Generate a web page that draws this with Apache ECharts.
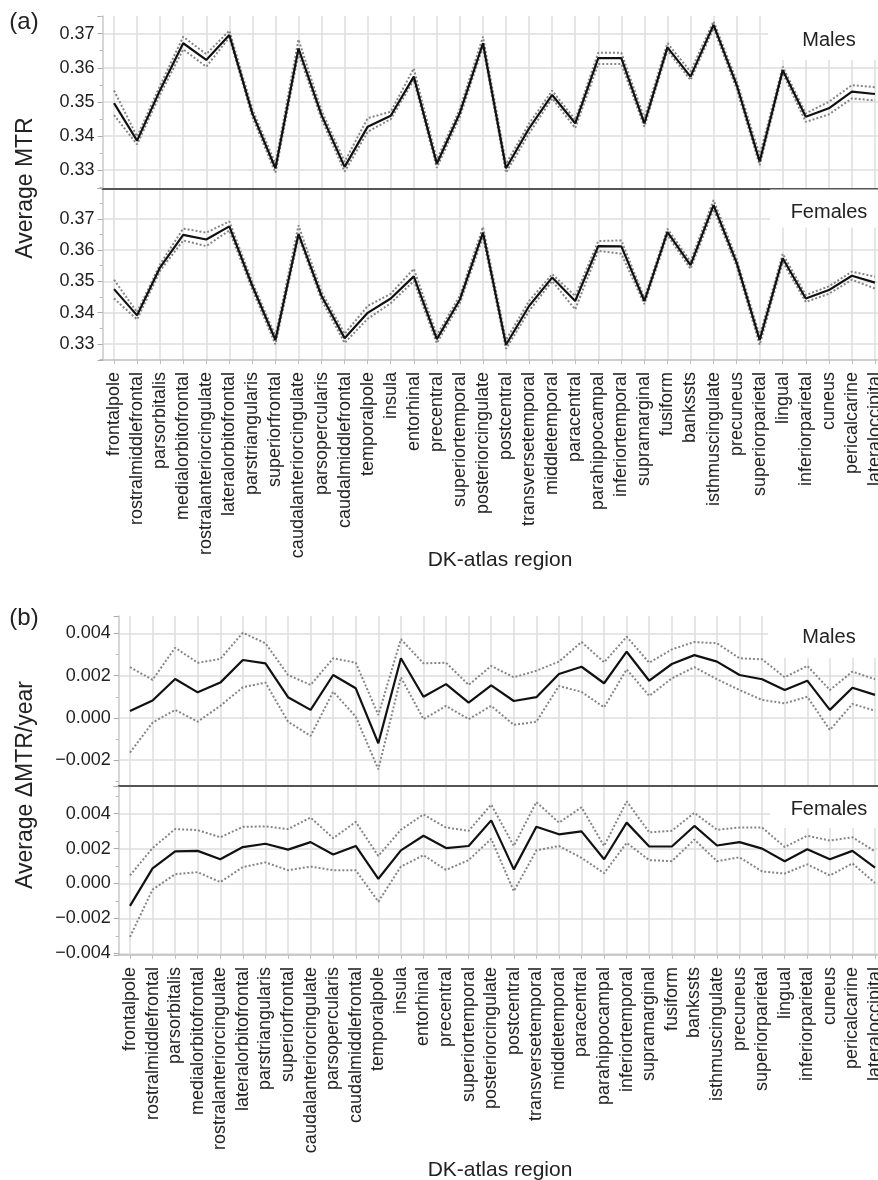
<!DOCTYPE html>
<html>
<head>
<meta charset="utf-8">
<script src="https://cdn.jsdelivr.net/npm/echarts@6/dist/echarts.min.js"></script>
<style>
  html, body { margin: 0; padding: 0; background: #fff; }
  #main { width: 878px; height: 1180px; }
</style>
</head>
<body>
<div id="main"></div>
<script>
// DK-atlas regions, same order in both panels
var regions = ['frontalpole','rostralmiddlefrontal','parsorbitalis','medialorbitofrontal','rostralanteriorcingulate',
  'lateralorbitofrontal','parstriangularis','superiorfrontal','caudalanteriorcingulate','parsopercularis',
  'caudalmiddlefrontal','temporalpole','insula','entorhinal','precentral','superiortemporal','posteriorcingulate',
  'postcentral','transversetemporal','middletemporal','paracentral','parahippocampal','inferiortemporal',
  'supramarginal','fusiform','bankssts','isthmuscingulate','precuneus','superiorparietal','lingual',
  'inferiorparietal','cuneus','pericalcarine','lateraloccipital'];

// (a) average MTR
var mtrMaleMean = [0.3496,0.3386,0.3535,0.3672,0.3623,0.3696,0.3466,0.3305,0.3657,0.3461,0.3309,0.3427,0.3459,0.3574,0.3318,0.3468,0.3672,
  0.3305,0.3422,0.3520,0.3437,0.3628,0.3628,0.3437,0.3660,0.3574,0.3726,0.3550,0.3325,0.3593,0.3456,0.3481,0.3530,0.3523];
var mtrMaleUpper = [0.3533,0.3398,0.3548,0.3691,0.3640,0.3709,0.3478,0.3318,0.3683,0.3474,0.3324,0.3452,0.3471,0.3598,0.3330,0.3480,0.3691,
  0.3318,0.3436,0.3533,0.3447,0.3644,0.3644,0.3452,0.3672,0.3589,0.3736,0.3562,0.3343,0.3603,0.3466,0.3500,0.3549,0.3543];
var mtrMaleLower = [0.3461,0.3375,0.3522,0.3654,0.3603,0.3689,0.3455,0.3292,0.3642,0.3449,0.3295,0.3412,0.3449,0.3564,0.3306,0.3456,0.3662,
  0.3292,0.3407,0.3510,0.3423,0.3611,0.3611,0.3427,0.3651,0.3564,0.3716,0.3538,0.3314,0.3584,0.3441,0.3463,0.3510,0.3504];
var mtrFemaleMean = [0.3475,0.3391,0.3545,0.3649,0.3634,0.3676,0.3485,0.3312,0.3652,0.3453,0.3318,0.3399,0.3445,0.3516,0.3315,0.3442,0.3656,
  0.3297,0.3421,0.3512,0.3437,0.3613,0.3612,0.3437,0.3658,0.3552,0.3744,0.3560,0.3312,0.3574,0.3445,0.3472,0.3518,0.3496];
var mtrFemaleUpper = [0.3505,0.3401,0.3555,0.3669,0.3656,0.3692,0.3497,0.3325,0.3679,0.3466,0.3332,0.3421,0.3460,0.3540,0.3328,0.3454,0.3674,
  0.3312,0.3437,0.3523,0.3453,0.3629,0.3631,0.3447,0.3668,0.3564,0.3760,0.3572,0.3326,0.3588,0.3456,0.3484,0.3531,0.3515];
var mtrFemaleLower = [0.3445,0.3378,0.3534,0.3631,0.3613,0.3663,0.3473,0.3298,0.3642,0.3440,0.3303,0.3380,0.3430,0.3501,0.3302,0.3430,0.3642,
  0.3284,0.3405,0.3501,0.3410,0.3598,0.3588,0.3427,0.3648,0.3540,0.3731,0.3548,0.3297,0.3562,0.3434,0.3460,0.3505,0.3477];

// (b) average change of MTR per year
var rateMaleMean = [0.00033,0.00082,0.00184,0.00121,0.00167,0.00274,0.00258,0.00098,0.00038,0.00203,0.00140,-0.00120,0.00282,0.00100,0.00160,0.00072,0.00154,
  0.00080,0.00098,0.00208,0.00242,0.00164,0.00313,0.00176,0.00255,0.00297,0.00266,0.00203,0.00183,0.00132,0.00176,0.00038,0.00143,0.00109];
var rateMaleUpper = [0.00240,0.00180,0.00332,0.00261,0.00279,0.00403,0.00353,0.00203,0.00156,0.00282,0.00261,0.00014,0.00372,0.00258,0.00261,0.00156,0.00246,
  0.00192,0.00223,0.00266,0.00359,0.00263,0.00384,0.00261,0.00324,0.00359,0.00353,0.00282,0.00277,0.00192,0.00246,0.00132,0.00219,0.00183];
var rateMaleLower = [-0.00164,-0.00022,0.00038,-0.00018,0.00057,0.00145,0.00167,-0.00018,-0.00085,0.00124,0.00006,-0.00243,0.00192,-0.00006,0.00057,-0.00006,0.00057,
  -0.00033,-0.00018,0.00151,0.00123,0.00050,0.00230,0.00104,0.00187,0.00240,0.00183,0.00132,0.00085,0.00069,0.00100,-0.00057,0.00066,0.00034];
var rateFemaleMean = [-0.00128,0.00087,0.00184,0.00187,0.00139,0.00209,0.00228,0.00194,0.00237,0.00166,0.00215,0.00027,0.00190,0.00274,0.00203,0.00215,0.00362,
  0.00081,0.00325,0.00282,0.00299,0.00139,0.00349,0.00212,0.00212,0.00330,0.00218,0.00237,0.00200,0.00128,0.00196,0.00139,0.00187,0.00091];
var rateFemaleUpper = [0.00046,0.00203,0.00312,0.00306,0.00265,0.00325,0.00327,0.00312,0.00378,0.00260,0.00353,0.00158,0.00308,0.00396,0.00321,0.00302,0.00452,
  0.00215,0.00467,0.00349,0.00437,0.00215,0.00471,0.00293,0.00302,0.00405,0.00308,0.00321,0.00321,0.00209,0.00274,0.00246,0.00265,0.00184];
var rateFemaleLower = [-0.00306,-0.00035,0.00053,0.00065,0.00008,0.00094,0.00121,0.00076,0.00097,0.00076,0.00076,-0.00104,0.00097,0.00162,0.00078,0.00134,0.00256,
  -0.00044,0.00190,0.00215,0.00147,0.00059,0.00233,0.00134,0.00128,0.00252,0.00128,0.00150,0.00069,0.00057,0.00110,0.00046,0.00115,0.00003];

var FONT = "'Liberation Sans', Arial, sans-serif";
var chart = echarts.init(document.getElementById('main'), null, { renderer: 'canvas' });

function fmt(digits) {
  return function (v) {
    return (v < 0 ? '\u2212' : '') + Math.abs(v).toFixed(digits);
  };
}

function xAxisCfg(idx, isBottom) {
  return {
    type: 'category', gridIndex: idx, data: regions, boundaryGap: true,
    axisLine: { show: true, onZero: false, lineStyle: { color: isBottom ? '#bdbdbd' : '#555', width: isBottom ? 1.5 : 2 } },
    axisTick: { show: isBottom, alignWithLabel: true, length: 4, lineStyle: { color: '#bdbdbd' } },
    axisLabel: isBottom ? { show: true, interval: 0, rotate: 90, fontSize: 18, color: '#222', fontFamily: FONT, margin: 12 } : { show: false },
    splitLine: { show: true, interval: 0, alignWithLabel: true, lineStyle: { color: '#dedede', width: 1.5 } }
  };
}

function yAxisCfg(idx, min, max, digits) {
  return {
    type: 'value', gridIndex: idx, min: min, max: max,
    axisLine: { show: true, lineStyle: { color: '#c8c8c8', width: 1.5 } },
    axisTick: { show: true, length: 5, lineStyle: { color: '#aaa' } },
    minorTick: { show: true, splitNumber: 2, length: 3, lineStyle: { color: '#bbb' } },
    axisLabel: { showMinLabel: false, showMaxLabel: false, fontSize: 18, color: '#222', fontFamily: FONT, margin: 8, formatter: fmt(digits) },
    splitLine: { show: true, showMinLine: false, showMaxLine: false, lineStyle: { color: '#dedede', width: 1.5 } }
  };
}

function lines(idx, mean, upper, lower) {
  var base = { type: 'line', xAxisIndex: idx, yAxisIndex: idx, symbol: 'none', silent: true, animation: false };
  return [
    Object.assign({}, base, { data: upper, lineStyle: { color: '#858585', width: 2, type: 'dotted' }, z: 3 }),
    Object.assign({}, base, { data: lower, lineStyle: { color: '#858585', width: 2, type: 'dotted' }, z: 3 }),
    Object.assign({}, base, { data: mean, lineStyle: { color: '#111', width: 2.2 }, z: 4 })
  ];
}

function label(text, x, y, size, rot) {
  return { type: 'text', x: x, y: y, rotation: rot || 0, z: 20,
    style: { text: text, fontSize: size, fontFamily: FONT, fill: '#222', align: 'center', verticalAlign: 'middle' } };
}
function box(x, y, w, h) {
  return { type: 'rect', shape: { x: x, y: y, width: w, height: h }, z: 15, style: { fill: '#fff' } };
}

var option = {
  backgroundColor: '#fff',
  animation: false,
  grid: [
    { left: 102.5, top: 16, width: 784, height: 172.3, outerBoundsMode: 'none' },
    { left: 102.5, top: 188.3, width: 784, height: 171.7, outerBoundsMode: 'none' },
    { left: 118.7, top: 616, width: 767.6, height: 170, outerBoundsMode: 'none' },
    { left: 118.7, top: 786, width: 767.6, height: 169, outerBoundsMode: 'none' }
  ],
  xAxis: [xAxisCfg(0, false), xAxisCfg(1, true), xAxisCfg(2, false), xAxisCfg(3, true)],
  yAxis: [
    yAxisCfg(0, 0.3246, 0.3752, 2),
    yAxisCfg(1, 0.3248, 0.3798, 2),
    yAxisCfg(2, -0.00322, 0.00482, 3),
    yAxisCfg(3, -0.0041, 0.00559, 3)
  ],
  series: [].concat(
    lines(0, mtrMaleMean, mtrMaleUpper, mtrMaleLower),
    lines(1, mtrFemaleMean, mtrFemaleUpper, mtrFemaleLower),
    lines(2, rateMaleMean, rateMaleUpper, rateMaleLower),
    lines(3, rateFemaleMean, rateFemaleUpper, rateFemaleLower)
  ),
  graphic: [
    box(768, 16, 120, 44), label('Males', 829, 40, 20),
    box(770, 189.5, 120, 38), label('Females', 829, 212, 20),
    box(768, 616, 120, 42), label('Males', 829, 637, 20),
    box(770, 787, 120, 41), label('Females', 829, 809, 20),
    label('(a)', 24, 22, 24), label('(b)', 24, 618, 24),
    label('Average MTR', 26, 188, 23, Math.PI / 2),
    label('Average \u0394MTR/year', 26, 785, 23, Math.PI / 2),
    label('DK-atlas region', 500, 560, 21),
    label('DK-atlas region', 500, 1170, 21)
  ]
};

chart.setOption(option);
</script>
</body>
</html>
